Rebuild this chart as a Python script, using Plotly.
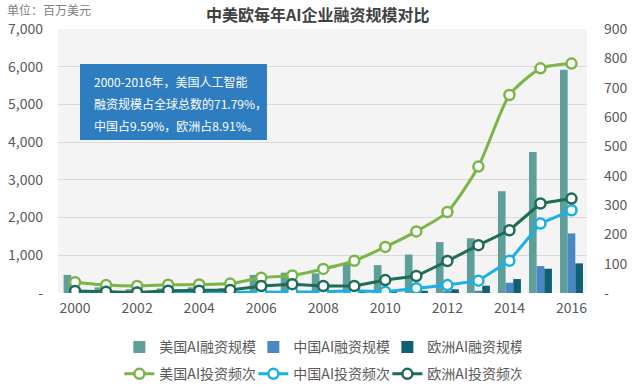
import plotly.graph_objects as go

years = list(range(2000, 2017))

# Funding (million USD, left axis)
us_funding = [480, 150, 100, 120, 150, 130, 480, 540, 520, 800, 740, 1020, 1350, 1450, 2700, 3740, 5920]
china_funding = [0, 0, 0, 0, 0, 0, 5, 10, 20, 10, 15, 30, 40, 60, 272, 714, 1580]
europe_funding = [10, 5, 5, 10, 10, 20, 40, 50, 60, 40, 50, 60, 98, 193, 370, 643, 786]

# Investment frequency (right axis)
us_freq = [37, 27, 24, 28, 29, 32, 52, 60, 82, 110, 157, 210, 276, 431, 675, 766, 782]
china_freq = [1, 1, 1, 1, 1, 1, 3, 3, 4, 8, 4, 16, 27, 42, 110, 237, 282]
europe_freq = [7, 4, 2, 8, 8, 10, 24, 30, 24, 24, 44, 58, 109, 163, 214, 305, 322]

left_ticks = [0, 1000, 2000, 3000, 4000, 5000, 6000, 7000]
left_text = ["-", "1,000", "2,000", "3,000", "4,000", "5,000", "6,000", "7,000"]
right_ticks = [0, 100, 200, 300, 400, 500, 600, 700, 800, 900]
right_text = ["-", "100", "200", "300", "400", "500", "600", "700", "800", "900"]
x_ticks = [2000, 2002, 2004, 2006, 2008, 2010, 2012, 2014, 2016]

names_bar = ["美国AI融资规模", "中国AI融资规模", "欧洲AI融资规模"]
names_line = ["美国AI投资频次", "中国AI投资频次", "欧洲AI投资频次"]

FONT = "Noto Sans CJK SC, Microsoft YaHei, sans-serif"
GRAY = "#595959"

fig = go.Figure()
bar_colors = ["#5f9f9a", "#4a87c5", "#0f6073"]
for name, vals, col in zip(names_bar, [us_funding, china_funding, europe_funding], bar_colors):
    fig.add_trace(go.Bar(x=years, y=vals, name=name, marker=dict(color=col, line=dict(width=0)),
                         yaxis="y", legend="legend"))

line_colors = ["#7ab547", "#19b0e6", "#1f6b57"]
shapes_line = ["spline", "linear", "linear"]
for name, vals, col, sh in zip(names_line, [us_freq, china_freq, europe_freq], line_colors, shapes_line):
    fig.add_trace(go.Scatter(x=years, y=vals, name=name, mode="lines+markers",
                             line=dict(color=col, width=3, shape=sh, smoothing=0.6),
                             marker=dict(symbol="circle", size=10, color="white",
                                         line=dict(color=col, width=2.5)),
                             yaxis="y2", legend="legend2"))

fig.update_layout(
    width=640, height=389,
    margin=dict(l=58, r=53, t=29, b=96, autoexpand=False),
    paper_bgcolor="white",
    plot_bgcolor="#f4f4f4",
    font=dict(family=FONT, color=GRAY, size=14),
    barmode="group", bargap=0.26, bargroupgap=0,
    showlegend=True,
    xaxis=dict(range=[1999.45, 2016.5], tickvals=x_ticks, showgrid=False, zeroline=False,
               showline=False, ticks="", ticklabelstandoff=5, tickfont=dict(size=14, color=GRAY)),
    yaxis=dict(range=[0, 7000], tickvals=left_ticks, ticktext=left_text, showgrid=True,
               gridcolor="#d9d9d9", gridwidth=1, zeroline=False, showline=False,
               ticks="", ticklabelstandoff=14, tickfont=dict(size=14, color=GRAY)),
    yaxis2=dict(range=[0, 900], tickvals=right_ticks, ticktext=right_text, overlaying="y",
                side="right", showgrid=False, zeroline=False, showline=False, ticks="",
                ticklabelstandoff=16, tickfont=dict(size=14, color=GRAY)),
    legend=dict(orientation="h", x=0.116, y=-0.145, xanchor="left", yanchor="top",
                entrywidth=89, entrywidthmode="pixels", bgcolor="rgba(0,0,0,0)",
                font=dict(size=14, color=GRAY)),
    legend2=dict(orientation="h", x=0.116, y=-0.247, xanchor="left", yanchor="top",
                 entrywidth=89, entrywidthmode="pixels", bgcolor="rgba(0,0,0,0)",
                 font=dict(size=14, color=GRAY)),
)

fig.add_shape(type="rect", xref="paper", yref="paper", x0=0.0416, x1=0.395, y0=0.5795, y1=0.867,
              fillcolor="#2e7dc0", line=dict(width=0), layer="above")

box_lines = ["2000-2016年，美国人工智能", "融资规模占全球总数的71.79%，", "中国占9.59%，欧洲占8.91%。"]
for txt, yy in zip(box_lines, [0.800, 0.7186, 0.636]):
    fig.add_annotation(text=txt, xref="paper", yref="paper", x=0.064, y=yy, xanchor="left",
                       yanchor="middle", showarrow=False, font=dict(size=12, color="white", family=FONT))

fig.add_annotation(text="<b>中美欧每年AI企业融资规模对比</b>", xref="paper", yref="paper",
                   x=(318 - 58) / 529, y=(293 - 14) / 264, xanchor="center", yanchor="middle",
                   showarrow=False, font=dict(size=16, color="#404040", family=FONT))
fig.add_annotation(text="单位：百万美元", xref="paper", yref="paper",
                   x=(5 - 58) / 529, y=(293 - 10) / 264, xanchor="left", yanchor="middle",
                   showarrow=False, font=dict(size=12, color="#808080", family=FONT))

fig.write_html("out.html", config={"displayModeBar": False},
               post_script="document.body.style.margin='0';")
